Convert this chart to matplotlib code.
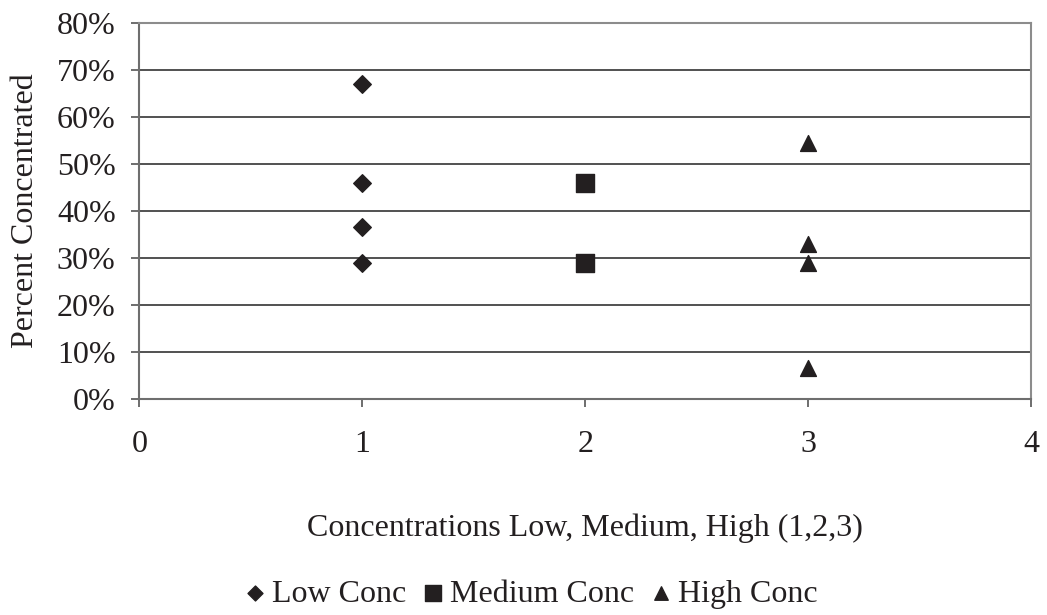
import matplotlib.pyplot as plt
from matplotlib.ticker import PercentFormatter

plt.rcParams['font.family'] = ['Liberation Serif', 'DejaVu Serif']

# percent concentrated at each concentration level
low_x = [1, 1, 1, 1]
low_y = [0.67, 0.46, 0.365, 0.29]
med_x = [2, 2]
med_y = [0.46, 0.29]
high_x = [3, 3, 3, 3]
high_y = [0.545, 0.33, 0.29, 0.065]

ink = '#231f20'

fig = plt.figure(figsize=(10.47, 6.15), dpi=100)
ax = fig.add_axes([0.133, 0.352, 0.852, 0.610])

ax.scatter(low_x, low_y, marker='D', s=80, color=ink, label='Low Conc', zorder=3)
ax.scatter(med_x, med_y, marker='s', s=165, color=ink, label='Medium Conc', zorder=3)
ax.scatter(high_x, high_y, marker='^', s=130, color=ink, label='High Conc', zorder=3)

ax.set_xlim(0, 4)
ax.set_ylim(0, 0.8)
ax.set_xticks([0, 1, 2, 3, 4])
ax.set_yticks([i / 10 for i in range(9)])
ax.yaxis.set_major_formatter(PercentFormatter(1.0, decimals=0))
ax.grid(axis='y', color='#333333', linewidth=1.2)
ax.set_axisbelow(True)

for side in ['left', 'right', 'top', 'bottom']:
    ax.spines[side].set_color('#8c8c8c')
    ax.spines[side].set_linewidth(1.5)
ax.spines['bottom'].set_color('#6e6e6e')
ax.spines['left'].set_color('#6e6e6e')
ax.tick_params(direction='out', length=6, width=1.2, color='#555555',
               labelsize=23, labelcolor=ink)
ax.tick_params(axis='x', pad=17)
ax.tick_params(axis='y', pad=11)

ax.set_xlabel('Concentrations Low, Medium, High (1,2,3)', fontsize=23, color=ink)
ax.xaxis.label.set_va('center')
ax.xaxis.set_label_coords(0.5, -0.346)
ax.set_ylabel('Percent Concentrated', fontsize=23, color=ink)
ax.yaxis.label.set_va('center')
ax.yaxis.set_label_coords(-0.128, 0.5)

fig.legend(loc='center', bbox_to_anchor=(0.506, 0.034), ncol=3, frameon=False,
           fontsize=23, handlelength=0.8, handletextpad=0.12, columnspacing=0.45,
           labelcolor=ink, markerscale=0.85, borderpad=0)

fig.savefig('out.png', dpi=100)
